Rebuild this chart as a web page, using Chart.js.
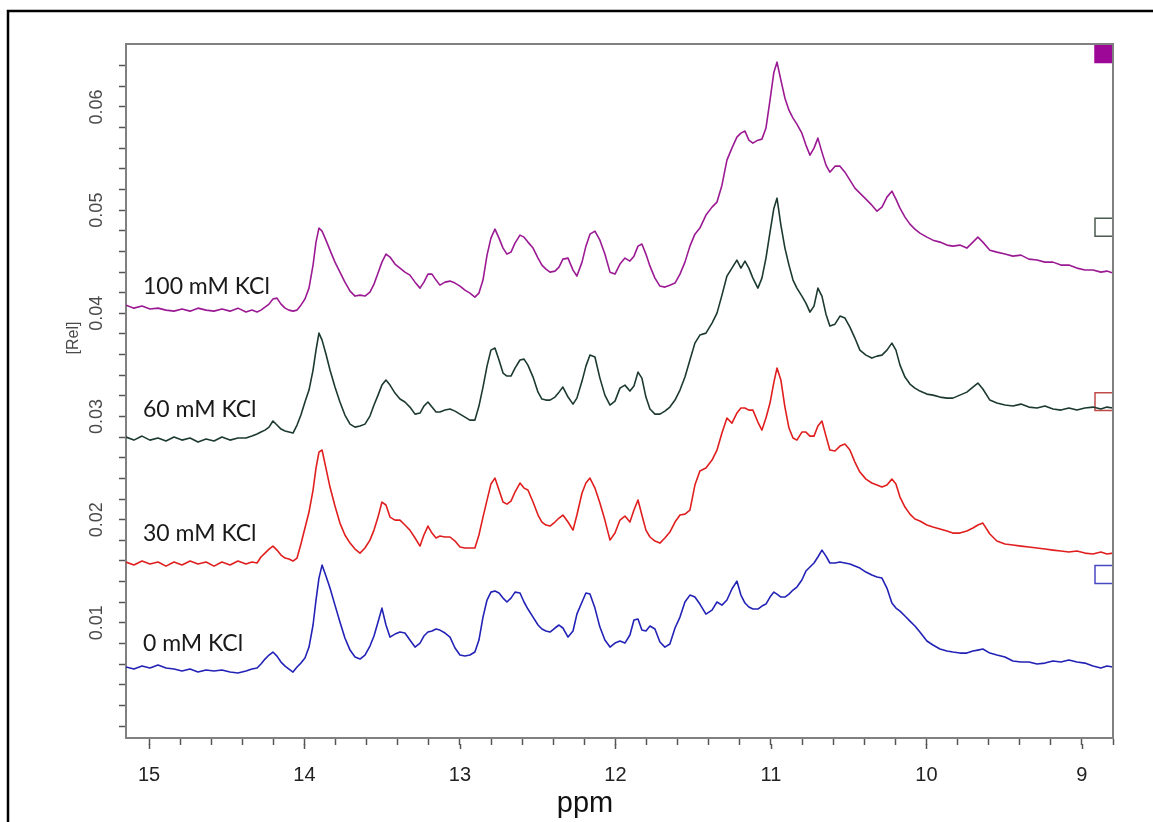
<!DOCTYPE html>
<html>
<head>
<meta charset="utf-8">
<script src="https://cdn.jsdelivr.net/npm/chart.js@4"></script>
<style>
html,body{margin:0;padding:0;background:#fff;}
canvas{display:block;}
</style>
</head>
<body>
<canvas id="c" width="1153" height="822"></canvas>
<script>
// chemical shift (ppm) sampling positions, shared by all four spectra
const ppm = [
15.148,15.097,15.045,14.994,14.942,14.891,14.839,14.788,14.736,14.685,
14.633,14.582,14.531,14.479,14.428,14.376,14.338,14.305,14.280,14.254,
14.228,14.203,14.177,14.151,14.125,14.100,14.074,14.048,14.023,13.997,
13.971,13.945,13.926,13.907,13.887,13.862,13.836,13.804,13.772,13.740,
13.707,13.675,13.643,13.611,13.579,13.553,13.527,13.502,13.476,13.450,
13.418,13.386,13.354,13.322,13.289,13.257,13.232,13.206,13.180,13.154,
13.129,13.096,13.064,13.032,13.000,12.968,12.936,12.904,12.878,12.852,
12.826,12.801,12.775,12.749,12.723,12.698,12.672,12.646,12.614,12.588,
12.563,12.530,12.498,12.473,12.447,12.421,12.389,12.363,12.338,12.305,
12.273,12.248,12.215,12.190,12.164,12.132,12.100,12.068,12.035,12.003,
11.971,11.939,11.907,11.881,11.855,11.830,11.804,11.778,11.746,11.714,
11.682,11.650,11.617,11.585,11.553,11.521,11.489,11.457,11.418,11.379,
11.347,11.315,11.283,11.251,11.219,11.193,11.167,11.142,11.116,11.084,
11.058,11.032,11.006,10.981,10.961,10.936,10.910,10.884,10.858,10.833,
10.801,10.775,10.749,10.723,10.698,10.672,10.646,10.621,10.588,10.556,
10.524,10.492,10.460,10.428,10.389,10.351,10.318,10.286,10.254,10.222,
10.196,10.170,10.138,10.106,10.074,10.042,9.997,9.958,9.913,9.868,
9.830,9.785,9.740,9.701,9.669,9.637,9.592,9.547,9.495,9.444,
9.392,9.341,9.289,9.238,9.186,9.135,9.084,9.032,8.981,8.929,
8.878,8.839,8.801
];

// [Rel] intensity, 100 mM KCl
const rel100 = [
0.04079,0.04050,0.04070,0.04041,0.04050,0.04031,0.04021,0.04041,0.04021,0.04050,
0.04031,0.04021,0.04041,0.04021,0.04050,0.04012,0.04031,0.04012,0.04031,0.04060,
0.04089,0.04138,0.04147,0.04089,0.04050,0.04031,0.04021,0.04031,0.04079,0.04138,
0.04244,0.04467,0.04690,0.04826,0.04797,0.04709,0.04612,0.04496,0.04399,0.04302,
0.04215,0.04167,0.04176,0.04167,0.04205,0.04283,0.04390,0.04496,0.04574,0.04545,
0.04477,0.04438,0.04399,0.04370,0.04302,0.04244,0.04302,0.04380,0.04380,0.04322,
0.04273,0.04302,0.04312,0.04293,0.04264,0.04225,0.04196,0.04157,0.04196,0.04322,
0.04564,0.04729,0.04816,0.04729,0.04632,0.04574,0.04593,0.04680,0.04758,0.04738,
0.04690,0.04632,0.04535,0.04467,0.04428,0.04399,0.04409,0.04448,0.04525,0.04535,
0.04419,0.04361,0.04496,0.04651,0.04767,0.04797,0.04709,0.04574,0.04399,0.04380,
0.04477,0.04535,0.04506,0.04554,0.04651,0.04671,0.04574,0.04457,0.04341,0.04264,
0.04254,0.04273,0.04293,0.04380,0.04496,0.04651,0.04767,0.04826,0.04952,0.05029,
0.05078,0.05242,0.05485,0.05601,0.05707,0.05746,0.05766,0.05678,0.05649,0.05678,
0.05688,0.05795,0.06066,0.06337,0.06434,0.06260,0.06085,0.05969,0.05892,0.05833,
0.05746,0.05630,0.05533,0.05601,0.05698,0.05562,0.05436,0.05368,0.05426,0.05426,
0.05368,0.05291,0.05213,0.05165,0.05107,0.05048,0.04990,0.05029,0.05126,0.05184,
0.05107,0.05019,0.04932,0.04864,0.04816,0.04777,0.04738,0.04709,0.04690,0.04661,
0.04651,0.04661,0.04632,0.04690,0.04738,0.04690,0.04612,0.04593,0.04574,0.04554,
0.04564,0.04525,0.04516,0.04496,0.04496,0.04467,0.04467,0.04438,0.04419,0.04419,
0.04399,0.04409,0.04390
];

// [Rel] intensity, 60 mM KCl
const rel60 = [
0.02801,0.02771,0.02810,0.02771,0.02791,0.02762,0.02801,0.02771,0.02791,0.02752,
0.02781,0.02762,0.02801,0.02771,0.02791,0.02791,0.02810,0.02830,0.02849,0.02868,
0.02897,0.02956,0.02917,0.02878,0.02859,0.02849,0.02839,0.02917,0.03014,0.03140,
0.03256,0.03450,0.03643,0.03808,0.03740,0.03605,0.03450,0.03285,0.03140,0.03014,
0.02926,0.02897,0.02907,0.02926,0.03004,0.03111,0.03207,0.03304,0.03353,0.03304,
0.03227,0.03169,0.03140,0.03091,0.03023,0.03033,0.03101,0.03140,0.03091,0.03043,
0.03043,0.03062,0.03072,0.03052,0.03023,0.02994,0.02965,0.02965,0.03101,0.03285,
0.03488,0.03643,0.03663,0.03547,0.03421,0.03392,0.03392,0.03469,0.03547,0.03556,
0.03498,0.03382,0.03236,0.03169,0.03159,0.03159,0.03188,0.03236,0.03285,0.03188,
0.03120,0.03178,0.03343,0.03488,0.03595,0.03576,0.03372,0.03207,0.03111,0.03149,
0.03275,0.03304,0.03246,0.03295,0.03430,0.03372,0.03188,0.03072,0.03023,0.03023,
0.03052,0.03091,0.03159,0.03256,0.03382,0.03547,0.03711,0.03789,0.03808,0.03905,
0.04002,0.04176,0.04361,0.04438,0.04516,0.04438,0.04506,0.04438,0.04341,0.04244,
0.04341,0.04535,0.04787,0.05019,0.05116,0.04855,0.04632,0.04467,0.04322,0.04244,
0.04167,0.04099,0.04012,0.04070,0.04244,0.04167,0.03992,0.03876,0.03895,0.03973,
0.03954,0.03866,0.03760,0.03643,0.03595,0.03566,0.03585,0.03595,0.03643,0.03711,
0.03643,0.03498,0.03382,0.03314,0.03275,0.03246,0.03217,0.03207,0.03188,0.03178,
0.03178,0.03207,0.03236,0.03285,0.03324,0.03266,0.03159,0.03130,0.03111,0.03101,
0.03120,0.03091,0.03082,0.03101,0.03072,0.03062,0.03082,0.03062,0.03082,0.03091,
0.03072,0.03091,0.03082
];

// [Rel] intensity, 30 mM KCl
const rel30 = [
0.01589,0.01560,0.01599,0.01570,0.01589,0.01550,0.01589,0.01560,0.01599,0.01570,
0.01589,0.01550,0.01589,0.01560,0.01599,0.01570,0.01589,0.01580,0.01638,0.01676,
0.01715,0.01744,0.01705,0.01657,0.01628,0.01618,0.01599,0.01628,0.01764,0.01919,
0.02074,0.02287,0.02500,0.02655,0.02675,0.02500,0.02316,0.02132,0.01967,0.01851,
0.01773,0.01715,0.01676,0.01725,0.01802,0.01899,0.02025,0.02171,0.02142,0.02025,
0.01996,0.01996,0.01948,0.01899,0.01822,0.01744,0.01851,0.01938,0.01870,0.01822,
0.01841,0.01832,0.01832,0.01793,0.01735,0.01725,0.01725,0.01725,0.01851,0.02025,
0.02190,0.02345,0.02403,0.02287,0.02171,0.02151,0.02180,0.02268,0.02355,0.02306,
0.02287,0.02171,0.02045,0.01977,0.01948,0.01938,0.01977,0.02016,0.02045,0.01977,
0.01899,0.02045,0.02258,0.02355,0.02403,0.02306,0.02161,0.01996,0.01802,0.01870,
0.01996,0.02035,0.01977,0.02093,0.02190,0.02045,0.01899,0.01832,0.01793,0.01773,
0.01822,0.01880,0.01977,0.02045,0.02054,0.02093,0.02335,0.02471,0.02500,0.02578,
0.02675,0.02839,0.02985,0.02936,0.03033,0.03082,0.03082,0.03062,0.03062,0.02946,
0.02868,0.02985,0.03130,0.03333,0.03469,0.03353,0.03091,0.02888,0.02791,0.02771,
0.02849,0.02849,0.02810,0.02810,0.02907,0.02956,0.02810,0.02675,0.02665,0.02713,
0.02733,0.02675,0.02558,0.02461,0.02393,0.02355,0.02335,0.02316,0.02335,0.02393,
0.02345,0.02219,0.02122,0.02054,0.02006,0.01987,0.01948,0.01928,0.01909,0.01890,
0.01870,0.01870,0.01890,0.01919,0.01948,0.01967,0.01861,0.01793,0.01764,0.01754,
0.01744,0.01735,0.01725,0.01715,0.01705,0.01696,0.01686,0.01696,0.01676,0.01667,
0.01686,0.01667,0.01676
];

// [Rel] intensity, 0 mM KCl
const rel0 = [
0.00572,0.00552,0.00581,0.00562,0.00591,0.00562,0.00552,0.00533,0.00552,0.00523,
0.00543,0.00533,0.00543,0.00523,0.00514,0.00533,0.00552,0.00562,0.00601,0.00649,
0.00688,0.00717,0.00678,0.00620,0.00581,0.00552,0.00523,0.00572,0.00610,0.00659,
0.00765,0.00979,0.01221,0.01434,0.01560,0.01454,0.01337,0.01172,0.01008,0.00853,
0.00736,0.00669,0.00649,0.00688,0.00775,0.00872,0.01008,0.01143,0.00979,0.00862,
0.00891,0.00911,0.00901,0.00833,0.00765,0.00804,0.00872,0.00911,0.00921,0.00940,
0.00930,0.00901,0.00862,0.00756,0.00688,0.00678,0.00688,0.00717,0.00833,0.01056,
0.01221,0.01298,0.01308,0.01289,0.01240,0.01202,0.01240,0.01298,0.01289,0.01202,
0.01134,0.01056,0.00979,0.00940,0.00921,0.00911,0.00950,0.00979,0.00950,0.00862,
0.00921,0.01085,0.01202,0.01289,0.01279,0.01143,0.00959,0.00833,0.00765,0.00804,
0.00824,0.00804,0.00882,0.01027,0.01037,0.00930,0.00921,0.00969,0.00940,0.00814,
0.00765,0.00795,0.00950,0.01056,0.01202,0.01269,0.01250,0.01182,0.01085,0.01124,
0.01202,0.01172,0.01221,0.01328,0.01405,0.01269,0.01192,0.01153,0.01134,0.01134,
0.01163,0.01182,0.01250,0.01298,0.01279,0.01250,0.01250,0.01279,0.01318,0.01347,
0.01415,0.01502,0.01541,0.01580,0.01638,0.01705,0.01647,0.01580,0.01580,0.01589,
0.01580,0.01570,0.01550,0.01531,0.01492,0.01463,0.01444,0.01434,0.01337,0.01192,
0.01143,0.01114,0.01066,0.01017,0.00969,0.00911,0.00824,0.00785,0.00746,0.00727,
0.00717,0.00707,0.00707,0.00727,0.00736,0.00746,0.00707,0.00688,0.00669,0.00630,
0.00620,0.00620,0.00601,0.00610,0.00630,0.00620,0.00640,0.00620,0.00610,0.00581,
0.00562,0.00581,0.00572
];

// series names and colours
const seriesNames = ['100 mM KCl', '60 mM KCl', '30 mM KCl', '0 mM KCl'];
const seriesColors = ['#9b1a93', '#1c3a2f', '#e01e1e', '#2222b6'];

// spectrum-selector squares at the right edge (ppm, [Rel])
const markerX = [8.858, 8.858, 8.858, 8.858];
const markerY = [0.06517, 0.04835, 0.03144, 0.01468];
const markerFill = ['#9e0897', 'rgba(0,0,0,0)', 'rgba(0,0,0,0)', 'rgba(0,0,0,0)'];
const markerEdge = ['#9e0897', '#4c5b52', '#c04a4a', '#4848c2'];

// text labels anchored in data space (ppm, [Rel] of the baseline)
const labelX = 15.039;
const labelY = [0.04186, 0.02994, 0.01793, 0.00727];

// axes
const xTickLabels = [15, 14, 13, 12, 11, 10, 9];
const yTickLabels = [0.01, 0.02, 0.03, 0.04, 0.05, 0.06];
const xMin = 8.80, xMax = 15.148;
const yMin = -0.00116, yMax = 0.0661;

const xTicks = [];
for (let i = 0; i <= 31; i++) xTicks.push(Math.round((8.8 + i * 0.2) * 10) / 10);
const yTicks = [];
for (let i = 0; i <= 32; i++) yTicks.push(Math.round(i * 2) / 1000);

const seriesValues = [rel100, rel60, rel30, rel0];

const datasets = seriesValues.map((vals, s) => ({
  label: seriesNames[s],
  data: ppm.map((p, i) => ({x: p, y: vals[i]})),
  borderColor: seriesColors[s],
  borderWidth: 1.6,
  pointRadius: 0,
  tension: 0,
  fill: false,
  borderJoinStyle: 'round'
}));

datasets.push({
  type: 'scatter',
  label: 'selectors',
  data: markerX.map((x, i) => ({x: x, y: markerY[i]})),
  pointStyle: 'rect',
  pointRadius: 12.7,
  pointHoverRadius: 12.7,
  backgroundColor: markerFill,
  borderColor: markerEdge,
  borderWidth: 1.5,
  showLine: false
});

const decor = {
  id: 'decor',
  beforeDraw(chart) {
    const ctx = chart.ctx;
    ctx.save();
    ctx.fillStyle = '#fff';
    ctx.fillRect(0, 0, chart.width, chart.height);
    ctx.strokeStyle = '#000';
    ctx.lineWidth = 2.5;
    ctx.beginPath();
    ctx.moveTo(8, chart.height + 5);
    ctx.lineTo(8, 11);
    ctx.lineTo(chart.width + 5, 11);
    ctx.stroke();
    ctx.restore();
  },
  afterDraw(chart) {
    const ctx = chart.ctx;
    const a = chart.chartArea;
    const xs = chart.scales.x, ys = chart.scales.y;
    ctx.save();
    // top and right frame of the plot
    ctx.strokeStyle = '#808080';
    ctx.lineWidth = 2;
    ctx.beginPath();
    ctx.moveTo(a.left, a.top);
    ctx.lineTo(a.right, a.top);
    ctx.lineTo(a.right, a.bottom);
    ctx.stroke();
    // longer major ticks on the ppm axis
    ctx.strokeStyle = '#555';
    ctx.lineWidth = 1.5;
    xTickLabels.forEach(v => {
      const px = Math.round(xs.getPixelForValue(v)) + 0.5;
      ctx.beginPath();
      ctx.moveTo(px, a.bottom + 6);
      ctx.lineTo(px, a.bottom + 11);
      ctx.stroke();
    });
    // axis titles
    ctx.fillStyle = '#111';
    ctx.font = '29px "Liberation Sans", Arial, sans-serif';
    ctx.textAlign = 'center';
    ctx.textBaseline = 'alphabetic';
    ctx.fillText('ppm', 585, 812);
    ctx.save();
    ctx.translate(74, 338);
    ctx.rotate(-Math.PI / 2);
    ctx.font = '16px "Liberation Sans", Arial, sans-serif';
    ctx.fillStyle = '#4a4a4a';
    ctx.textBaseline = 'middle';
    ctx.fillText('[Rel]', 0, 0);
    ctx.restore();
    // series labels
    ctx.font = '23px Lato, "Open Sans", sans-serif';
    ctx.fillStyle = '#1a1a1a';
    ctx.textAlign = 'left';
    ctx.textBaseline = 'alphabetic';
    seriesNames.forEach((name, i) => {
      ctx.fillText(name, xs.getPixelForValue(labelX), ys.getPixelForValue(labelY[i]));
    });
    ctx.restore();
  }
};

new Chart(document.getElementById('c'), {
  type: 'line',
  data: {datasets: datasets},
  plugins: [decor],
  options: {
    responsive: false,
    animation: false,
    devicePixelRatio: 1,
    parsing: true,
    events: [],
    layout: {padding: {left: 0, top: 44, right: 40, bottom: 0}},
    plugins: {legend: {display: false}, tooltip: {enabled: false}},
    scales: {
      x: {
        type: 'linear',
        position: 'bottom',
        reverse: true,
        min: xMin,
        max: xMax,
        afterFit: s => { s.height = 84; },
        afterBuildTicks: s => { s.ticks = xTicks.map(v => ({value: v})); },
        grid: {drawOnChartArea: false, drawTicks: true, tickLength: 7, tickColor: '#555', tickWidth: 1.5},
        border: {display: true, color: '#808080', width: 2},
        ticks: {
          autoSkip: false,
          maxRotation: 0,
          minRotation: 0,
          padding: 18,
          color: '#222',
          font: {family: '"Liberation Sans", Arial, sans-serif', size: 20},
          callback: v => {
            const r = Math.round(v);
            return (Math.abs(v - r) < 1e-6 && xTickLabels.includes(r)) ? String(r) : '';
          }
        }
      },
      y: {
        type: 'linear',
        position: 'left',
        min: yMin,
        max: yMax,
        afterFit: s => { s.width = 126; },
        afterBuildTicks: s => { s.ticks = yTicks.map(v => ({value: v})); },
        grid: {drawOnChartArea: false, drawTicks: true, tickLength: 7, tickColor: '#555', tickWidth: 1.5},
        border: {display: true, color: '#808080', width: 2},
        ticks: {
          autoSkip: false,
          minRotation: 90,
          maxRotation: 90,
          crossAlign: 'center',
          padding: 4,
          color: '#4a4a4a',
          font: {family: '"Liberation Sans", Arial, sans-serif', size: 18},
          callback: v => {
            const m = yTickLabels.find(t => Math.abs(t - v) < 1e-7);
            return m !== undefined ? m.toFixed(2) : '';
          }
        }
      }
    }
  }
});
</script>
</body>
</html>
